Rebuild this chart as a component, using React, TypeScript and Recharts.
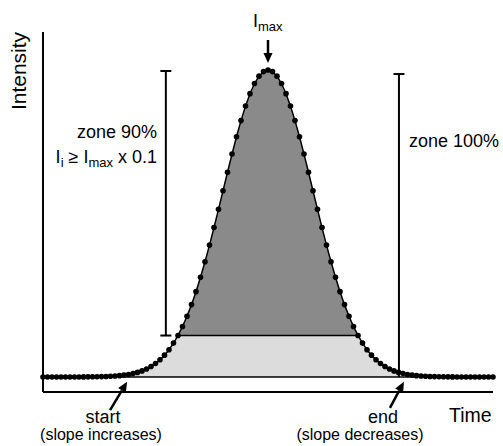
import React from 'react'
import { ComposedChart, Area, Line, XAxis, YAxis, ReferenceLine, Customized } from 'recharts'

const intensity = [
  0, 0, 0, 0, 0, 0, 0, 0, 0, 0.02,
  0.03, 0.05, 0.07, 0.11, 0.15, 0.22, 0.31, 0.43, 0.6, 0.82,
  1.11, 1.49, 1.98, 2.61, 3.4, 4.39, 5.61, 7.1, 8.89, 11.03,
  13.53, 16.45, 19.79, 23.57, 27.8, 32.47, 37.53, 42.96, 48.68, 54.61,
  60.65, 66.69, 72.61, 78.26, 83.53, 88.25, 92.31, 95.6, 98.02, 99.5,
  100,
  99.5, 98.02, 95.6, 92.31, 88.25, 83.53, 78.26, 72.61, 66.69, 60.65,
  54.61, 48.68, 42.96, 37.53, 32.47, 27.8, 23.57, 19.79, 16.45, 13.53,
  11.03, 8.89, 7.1, 5.61, 4.39, 3.4, 2.61, 1.98, 1.49, 1.11,
  0.82, 0.6, 0.43, 0.31, 0.22, 0.15, 0.11, 0.07, 0.05, 0.03,
  0.02, 0, 0, 0, 0, 0, 0, 0, 0, 0,
]

const yDomain = [-4.9, 112.4]
const threshold = 13.5
const zone90Range = [30, 70]
const zone100Range = [19, 79]
const zone90Bar = { t: 27.3, from: 13.5, to: 99.7 }
const zone100Bar = { t: 79.1, from: 0, to: 98.7 }
const imaxArrow = [{ x: 50, y: 109.8 }, { x: 50, y: 102.3 }]
const startArrow = [{ x: 14.9, y: -10.8 }, { x: 18.7, y: -1.6 }]
const endArrow = [{ x: 77.1, y: -10.1 }, { x: 80.2, y: -1.6 }]

const data = intensity.map((v, i) => ({
  t: i,
  v,
  light: i >= zone100Range[0] && i <= zone100Range[1] ? v : null,
  dark: Math.max(v, threshold),
}))

const FONT = '"Liberation Sans", Arial, sans-serif'

// vertical bar with a cap on top (and optional cap at the bottom)
function capBar(bottomCap: boolean) {
  // eslint-disable-next-line @typescript-eslint/no-explicit-any
  return function Shape({ x1, y1, x2, y2 }: any) {
    const top = Math.min(y1, y2)
    const bot = Math.max(y1, y2)
    return (
      <g stroke="#000" strokeWidth={2}>
        <line x1={x1} y1={top} x2={x2} y2={bot} />
        <line x1={x1 - 5.5} y1={top} x2={x1 + 5.5} y2={top} />
        {bottomCap && <line x1={x1 - 5.5} y1={bot} x2={x1 + 5.5} y2={bot} />}
      </g>
    )
  }
}

// eslint-disable-next-line @typescript-eslint/no-explicit-any
function ArrowShape({ x1, y1, x2, y2 }: any) {
  const dx = x2 - x1
  const dy = y2 - y1
  const len = Math.sqrt(dx * dx + dy * dy) || 1
  const ux = dx / len
  const uy = dy / len
  const hl = 10
  const hw = 4.5
  const bx = x2 - ux * hl
  const by = y2 - uy * hl
  const pts = `${x2},${y2} ${bx - uy * hw},${by + ux * hw} ${bx + uy * hw},${by - ux * hw}`
  return (
    <g>
      <line x1={x1} y1={y1} x2={bx} y2={by} stroke="#000" strokeWidth={2.5} />
      <polygon points={pts} fill="#000" />
    </g>
  )
}

function Labels() {
  return (
    <g fontFamily={FONT} fill="#000">
      <text x={26} y={71} fontSize={21} textAnchor="middle" transform="rotate(-90, 26, 71)">
        Intensity
      </text>
      <text x={449} y={422} fontSize={19.5}>Time</text>
      <text x={253} y={27} fontSize={18}>
        I<tspan fontSize={13} dy={4}>max</tspan>
      </text>
      <text x={157} y={138} fontSize={18} textAnchor="end">zone 90%</text>
      <text x={157} y={163} fontSize={18} textAnchor="end">
        I<tspan fontSize={13} dy={4}>i</tspan>
        <tspan dy={-4}> ≥ I</tspan>
        <tspan fontSize={13} dy={4}>max</tspan>
        <tspan dy={-4}> x 0.1</tspan>
      </text>
      <text x={409} y={147} fontSize={18}>zone 100%</text>
      <text x={103} y={423} fontSize={18} textAnchor="middle">start</text>
      <text x={101} y={440} fontSize={16} textAnchor="middle">(slope increases)</text>
      <text x={383} y={423} fontSize={18} textAnchor="middle">end</text>
      <text x={360} y={440} fontSize={16} textAnchor="middle">(slope decreases)</text>
    </g>
  )
}

export default function App() {
  const Zone90 = capBar(true)
  const Zone100 = capBar(false)
  return (
    <div style={{ position: 'absolute', left: 0, top: 0, width: 503, height: 446, background: '#fff' }}>
      <ComposedChart width={503} height={446} data={data} margin={{ top: 32, right: 10, bottom: 54, left: 43 }}>
        <XAxis dataKey="t" type="number" domain={[0, 100]} hide />
        <YAxis type="number" domain={yDomain} hide allowDataOverflow />
        <Area
          dataKey="light"
          type="linear"
          baseValue={0}
          fill="#dcdcdc"
          fillOpacity={1}
          stroke="none"
          connectNulls={false}
          isAnimationActive={false}
        />
        <Area
          dataKey="dark"
          type="linear"
          baseValue={threshold}
          fill="#8a8a8a"
          fillOpacity={1}
          stroke="none"
          isAnimationActive={false}
        />
        {/* axes: left edge and bottom edge of the plot */}
        <ReferenceLine x={0} stroke="#000" strokeWidth={2} ifOverflow="visible" />
        <ReferenceLine y={yDomain[0]} stroke="#000" strokeWidth={2} ifOverflow="visible" />
        <ReferenceLine
          segment={[{ x: zone90Range[0], y: threshold }, { x: zone90Range[1], y: threshold }]}
          stroke="#000"
          strokeWidth={1.5}
        />
        <ReferenceLine y={0} stroke="#000" strokeWidth={1.5} />
        <Line
          dataKey="v"
          type="linear"
          stroke="#000"
          strokeWidth={1.5}
          dot={{ r: 2.8, fill: '#000', stroke: 'none' }}
          activeDot={false}
          isAnimationActive={false}
        />
        <ReferenceLine
          segment={[{ x: zone90Bar.t, y: zone90Bar.from }, { x: zone90Bar.t, y: zone90Bar.to }]}
          shape={<Zone90 />}
        />
        <ReferenceLine
          segment={[{ x: zone100Bar.t, y: zone100Bar.from }, { x: zone100Bar.t, y: zone100Bar.to }]}
          shape={<Zone100 />}
        />
        <ReferenceLine segment={imaxArrow} shape={<ArrowShape />} ifOverflow="visible" />
        <ReferenceLine segment={startArrow} shape={<ArrowShape />} ifOverflow="visible" />
        <ReferenceLine segment={endArrow} shape={<ArrowShape />} ifOverflow="visible" />
        <Customized component={<Labels />} />
      </ComposedChart>
    </div>
  )
}
